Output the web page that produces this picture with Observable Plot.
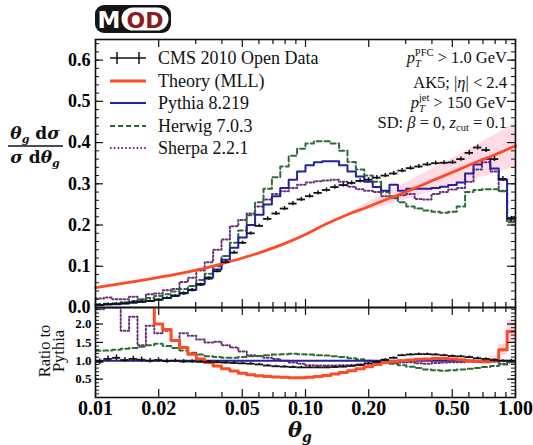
<!DOCTYPE html>
<html><head><meta charset="utf-8">
<script src="https://cdn.jsdelivr.net/npm/d3@7"></script>
<script src="https://cdn.jsdelivr.net/npm/@observablehq/plot@0.6"></script>
<style>
body{margin:0;background:#fff;}
#wrap{position:relative;width:533px;height:445px;overflow:hidden;background:#fff;}
#wrap svg{position:absolute;left:0;}
</style></head><body><div id="wrap"></div>
<script>
// ---- binning in theta_g (log-spaced edges, 50 bins from 0.01 to 1) ----
const binEdges = [0.01,0.010965,0.012023,0.013183,0.014454,0.015849,0.017378,0.019055,0.020893,0.022909,
  0.025119,0.027542,0.030200,0.033113,0.036308,0.039811,0.043652,0.047863,0.052481,0.057544,
  0.063096,0.069183,0.075858,0.083176,0.091201,0.1,0.10965,0.12023,0.13183,0.14454,
  0.15849,0.17378,0.19055,0.20893,0.22909,0.25119,0.27542,0.30200,0.33113,0.36308,
  0.39811,0.43652,0.47863,0.52481,0.57544,0.63096,0.69183,0.75858,0.83176,0.91201,1.0];

// ---- main panel: (theta_g/sigma) dsigma/dtheta_g ----
const cmsData = [0.006,0.008,0.009,0.010,0.012,0.014,0.016,0.019,0.023,0.028,
  0.034,0.042,0.055,0.070,0.088,0.110,0.133,0.157,0.180,0.198,
  0.215,0.228,0.240,0.252,0.262,0.270,0.278,0.285,0.292,0.297,
  0.302,0.307,0.310,0.315,0.320,0.325,0.332,0.338,0.342,0.347,
  0.350,0.351,0.352,0.360,0.375,0.388,0.382,0.360,0.312,0.215];
const cmsErr = [0.003,0.003,0.003,0.003,0.003,0.003,0.003,0.003,0.003,0.003,
  0.004,0.004,0.004,0.004,0.004,0.004,0.004,0.004,0.004,0.004,
  0.005,0.005,0.005,0.005,0.005,0.005,0.005,0.005,0.005,0.005,
  0.005,0.005,0.005,0.005,0.005,0.005,0.005,0.005,0.005,0.005,
  0.005,0.005,0.005,0.005,0.006,0.006,0.006,0.006,0.006,0.006];
const pythia = [0.006,0.007,0.008,0.010,0.012,0.014,0.016,0.019,0.023,0.029,
  0.035,0.043,0.057,0.073,0.092,0.116,0.145,0.170,0.200,0.225,
  0.250,0.270,0.290,0.310,0.330,0.345,0.352,0.355,0.355,0.345,
  0.330,0.318,0.305,0.292,0.283,0.298,0.283,0.288,0.288,0.288,
  0.290,0.293,0.297,0.303,0.325,0.347,0.360,0.337,0.310,0.217];
const herwig = [0.008,0.009,0.010,0.013,0.016,0.019,0.023,0.028,0.032,0.039,
  0.045,0.052,0.067,0.082,0.100,0.125,0.157,0.187,0.224,0.255,
  0.288,0.316,0.342,0.368,0.385,0.398,0.403,0.403,0.398,0.380,
  0.353,0.335,0.320,0.305,0.280,0.270,0.255,0.245,0.240,0.235,
  0.232,0.230,0.232,0.245,0.280,0.285,0.287,0.287,0.282,0.207];
const sherpa = [0.022,0.024,0.020,0.020,0.026,0.020,0.032,0.034,0.042,0.045,
  0.062,0.072,0.090,0.110,0.140,0.165,0.197,0.212,0.228,0.245,
  0.262,0.275,0.282,0.290,0.298,0.303,0.306,0.308,0.310,0.305,
  0.293,0.287,0.283,0.280,0.270,0.265,0.272,0.275,0.263,0.262,
  0.275,0.280,0.286,0.290,0.305,0.335,0.352,0.330,0.283,0.210];
const theoryTheta = [0.01,0.0126,0.0158,0.02,0.0251,0.0316,0.0398,0.0501,0.0631,0.0794,0.1,0.126,0.158,0.2,0.251,0.316,0.398,0.501,0.631,0.794,1.0];
const theoryValue = [0.048,0.056,0.064,0.073,0.082,0.093,0.106,0.120,0.136,0.155,0.177,0.203,0.225,0.245,0.265,0.285,0.307,0.328,0.350,0.370,0.392];
const bandTheta = [0.158,0.2,0.251,0.316,0.398,0.501,0.631,0.794,1.0];
const bandLo = [0.222,0.236,0.250,0.265,0.280,0.295,0.310,0.325,0.340];
const bandHi = [0.228,0.256,0.282,0.308,0.335,0.362,0.390,0.418,0.450];

// ---- ratio panel: ratio to Pythia ----
const cmsRatio = [0.97,1.05,1.08,1.02,1.05,1.03,1.00,1.02,0.99,1.00,
  0.98,0.98,0.97,0.97,0.96,0.95,0.94,0.93,0.92,0.90,
  0.87,0.85,0.84,0.83,0.82,0.82,0.82,0.82,0.83,0.84,
  0.86,0.88,0.93,0.97,1.03,1.08,1.15,1.17,1.18,1.18,
  1.17,1.15,1.13,1.12,1.10,1.07,1.05,1.02,1.00,1.00];
const cmsRatioErr = [0.08,0.08,0.08,0.07,0.07,0.07,0.06,0.06,0.06,0.05,
  0.05,0.05,0.04,0.04,0.04,0.04,0.04,0.03,0.03,0.03,
  0.03,0.03,0.03,0.03,0.03,0.03,0.03,0.03,0.03,0.03,
  0.03,0.03,0.03,0.03,0.03,0.03,0.03,0.03,0.03,0.03,
  0.03,0.03,0.03,0.03,0.03,0.03,0.03,0.03,0.03,0.04];
const herwigRatio = [1.27,1.28,1.30,1.33,1.35,1.38,1.42,1.46,1.40,1.35,
  1.28,1.22,1.17,1.12,1.10,1.08,1.08,1.10,1.12,1.13,
  1.15,1.17,1.18,1.19,1.18,1.17,1.15,1.14,1.12,1.10,
  1.07,1.04,1.00,0.97,0.95,0.92,0.88,0.84,0.80,0.76,
  0.74,0.73,0.74,0.76,0.78,0.80,0.83,0.86,0.90,0.95];
const sherpaRatio = [2.40,2.45,2.45,1.82,2.20,1.42,1.95,1.75,1.82,1.55,
  1.75,1.68,1.58,1.50,1.52,1.42,1.36,1.25,1.15,1.12,
  1.08,1.05,1.00,0.95,0.92,0.88,0.87,0.87,0.87,0.88,
  0.88,0.90,0.92,0.94,0.95,0.93,0.95,0.96,0.93,0.92,
  0.94,0.95,0.96,0.96,0.97,0.98,0.98,0.97,0.92,0.97];
const theoryRatio = [9.5,8.0,6.8,5.8,4.8,4.0,3.3,2.0,1.85,1.55,
  1.36,1.18,1.05,0.95,0.86,0.78,0.72,0.66,0.62,0.59,
  0.57,0.56,0.55,0.54,0.54,0.55,0.57,0.60,0.64,0.68,
  0.73,0.78,0.84,0.90,0.95,0.98,1.00,1.02,1.04,1.05,
  1.06,1.06,1.05,1.03,1.00,0.98,0.97,1.02,1.30,1.80];
const ratioBandTheta = [0.63096,0.69183,0.75858,0.83176,0.91201,1.0];
const ratioBandLo = [0.92,0.92,0.95,1.15,1.50,1.50];
const ratioBandHi = [1.05,1.05,1.12,1.45,2.10,2.10];

// ---- ticks ----
const xLabelTicks = [0.01,0.02,0.05,0.1,0.2,0.5,1];
const xMinorTicks = [0.03,0.04,0.06,0.07,0.08,0.09,0.3,0.4,0.6,0.7,0.8,0.9];
const yMainTicks = [0,0.1,0.2,0.3,0.4,0.5,0.6];
const yMainMinor = d3.range(0.02, 0.65, 0.02);
const yRatioTicks = [0.5,1.0,1.5,2.0];
const yRatioMinor = d3.range(0.1, 2.45, 0.1);

// colours
const C_RED = "#ff4a26", C_BLUE = "#23239b", C_GREEN = "#2f6a3a", C_PURPLE = "#6c2f7a", C_BLACK = "#111";
const DOT = "1.6,2.2";

const stepRows = vals => binEdges.map((x, i) => ({x, y: vals[Math.min(i, vals.length - 1)]}));
const binRows = (vals, err) => vals.map((v, i) => ({x1: binEdges[i], x2: binEdges[i + 1],
  xc: Math.sqrt(binEdges[i] * binEdges[i + 1]), v, lo: v - err[i], hi: v + err[i]}));

const FONT = "Liberation Serif, DejaVu Serif, serif";
const FH1 = 268, FH2 = 90, FW = 420;

function tickMarks(FH, yMajor, yMinor) {
  return [
    Plot.ruleX(xLabelTicks, {insetBottom: FH - 8, stroke: C_BLACK, strokeWidth: 1.2}),
    Plot.ruleX(xMinorTicks, {insetBottom: FH - 5, stroke: C_BLACK, strokeWidth: 1.2}),
    Plot.ruleX(xLabelTicks, {insetTop: FH - 8, stroke: C_BLACK, strokeWidth: 1.2}),
    Plot.ruleX(xMinorTicks, {insetTop: FH - 5, stroke: C_BLACK, strokeWidth: 1.2}),
    Plot.ruleY(yMajor, {insetRight: FW - 8, stroke: C_BLACK, strokeWidth: 1.2}),
    Plot.ruleY(yMinor, {insetRight: FW - 4, stroke: C_BLACK, strokeWidth: 1}),
    Plot.ruleY(yMajor, {insetLeft: FW - 8, stroke: C_BLACK, strokeWidth: 1.2}),
    Plot.ruleY(yMinor, {insetLeft: FW - 4, stroke: C_BLACK, strokeWidth: 1})
  ];
}

const theoryRows = theoryTheta.map((x, i) => ({x, y: theoryValue[i]}));
const bandRows = bandTheta.map((x, i) => ({x, lo: bandLo[i], hi: bandHi[i]}));
const ratioBandRows = ratioBandTheta.map((x, i) => ({x, lo: ratioBandLo[i], hi: ratioBandHi[i]}));
const dataRows = binRows(cmsData, cmsErr);
const dataRatioRows = binRows(cmsRatio, cmsRatioErr);

const main = Plot.plot({
  width: 533, height: 320,
  marginLeft: 95, marginRight: 18, marginTop: 39, marginBottom: 13,
  style: {background: "transparent", overflow: "visible", fontFamily: FONT},
  x: {type: "log", domain: [0.01, 1], axis: null},
  y: {domain: [0, 0.65]},
  marks: [
    Plot.areaY(bandRows, {x: "x", y1: "lo", y2: "hi", fill: "#ff5c8c", fillOpacity: 0.22, curve: "monotone-x"}),
    Plot.line(stepRows(sherpa), {x: "x", y: "y", curve: "step-after", stroke: C_PURPLE, strokeWidth: 2, strokeDasharray: DOT}),
    Plot.line(stepRows(herwig), {x: "x", y: "y", curve: "step-after", stroke: C_GREEN, strokeWidth: 2, strokeDasharray: "5,3"}),
    Plot.line(stepRows(pythia), {x: "x", y: "y", curve: "step-after", stroke: C_BLUE, strokeWidth: 2}),
    Plot.line(theoryRows, {x: "x", y: "y", curve: "monotone-x", stroke: C_RED, strokeWidth: 2.8}),
    Plot.ruleY(dataRows, {x1: "x1", x2: "x2", y: "v", stroke: C_BLACK, strokeWidth: 1.8}),
    Plot.ruleX(dataRows, {x: "xc", y1: "lo", y2: "hi", stroke: C_BLACK, strokeWidth: 1.5}),
    ...tickMarks(FH1, yMainTicks, yMainMinor),
    Plot.frame({stroke: C_BLACK, strokeWidth: 1.6}),
    Plot.axisY({ticks: yMainTicks, tickSize: 0, tickPadding: 5, tickFormat: d3.format(".1f"),
      fontSize: 18, fontWeight: "bold", fontFamily: FONT, label: null})
  ]
});
main.style.top = "0px";

const ratio = Plot.plot({
  width: 533, height: 148,
  marginLeft: 95, marginRight: 18, marginTop: 10, marginBottom: 48,
  style: {background: "transparent", overflow: "visible", fontFamily: FONT},
  x: {type: "log", domain: [0.01, 1]},
  y: {domain: [0, 2.45]},
  marks: [
    Plot.areaY(ratioBandRows, {x: "x", y1: "lo", y2: "hi", curve: "step-after", fill: "#ff5c8c", fillOpacity: 0.25}),
    Plot.line(stepRows(sherpaRatio), {x: "x", y: "y", curve: "step-after", stroke: C_PURPLE, strokeWidth: 2, strokeDasharray: DOT, clip: true}),
    Plot.line(stepRows(herwigRatio), {x: "x", y: "y", curve: "step-after", stroke: C_GREEN, strokeWidth: 2, strokeDasharray: "5,3", clip: true}),
    Plot.ruleY([1], {stroke: C_BLUE, strokeWidth: 2}),
    Plot.line(stepRows(theoryRatio), {x: "x", y: "y", curve: "step-after", stroke: C_RED, strokeWidth: 3, clip: true}),
    Plot.ruleY(dataRatioRows, {x1: "x1", x2: "x2", y: "v", stroke: C_BLACK, strokeWidth: 1.8}),
    Plot.ruleX(dataRatioRows, {x: "xc", y1: "lo", y2: "hi", stroke: C_BLACK, strokeWidth: 1.5}),
    ...tickMarks(FH2, yRatioTicks, yRatioMinor),
    Plot.frame({stroke: C_BLACK, strokeWidth: 1.6}),
    Plot.axisY({ticks: yRatioTicks, tickSize: 0, tickPadding: 4, tickFormat: d3.format(".1f"),
      fontSize: 13, fontWeight: "bold", fontFamily: FONT, label: null}),
    Plot.axisX({ticks: xLabelTicks, tickSize: 0, tickPadding: 3, tickFormat: d3.format(".2f"),
      fontSize: 20, fontWeight: "bold", fontFamily: FONT, label: null})
  ]
});
ratio.style.top = "297px";

const wrap = document.getElementById("wrap");
wrap.appendChild(main);
wrap.appendChild(ratio);

const legendItems = ["CMS 2010 Open Data", "Theory (MLL)", "Pythia 8.219", "Herwig 7.0.3", "Sherpa 2.2.1"];
const legendY = [58, 81, 103, 126, 148];

const ov = document.createElementNS("http://www.w3.org/2000/svg", "svg");
ov.setAttribute("width", 533); ov.setAttribute("height", 445);
ov.style.top = "0px";
ov.innerHTML = `
<g>
  <rect x="95" y="5" width="76" height="28" rx="9" fill="#151515"/>
  <rect x="121.5" y="7.5" width="47" height="23" rx="11.5" fill="#fff"/>
  <text x="109" y="28" text-anchor="middle" font-family="DejaVu Sans" font-weight="bold" font-size="23" fill="#fff">M</text>
  <text x="145" y="28" text-anchor="middle" font-family="DejaVu Sans" font-weight="bold" font-size="22" fill="#8b1c22">OD</text>
</g>
<g fill="none">
  <line x1="110" x2="146" y1="${legendY[0]}" y2="${legendY[0]}" stroke="${C_BLACK}" stroke-width="1.5"/>
  <line x1="117" x2="117" y1="${legendY[0]-6}" y2="${legendY[0]+6}" stroke="${C_BLACK}" stroke-width="1.5"/>
  <line x1="139" x2="139" y1="${legendY[0]-6}" y2="${legendY[0]+6}" stroke="${C_BLACK}" stroke-width="1.5"/>
  <line x1="110" x2="146" y1="${legendY[1]}" y2="${legendY[1]}" stroke="${C_RED}" stroke-width="3"/>
  <line x1="110" x2="146" y1="${legendY[2]}" y2="${legendY[2]}" stroke="${C_BLUE}" stroke-width="2"/>
  <line x1="110" x2="146" y1="${legendY[3]}" y2="${legendY[3]}" stroke="${C_GREEN}" stroke-width="2" stroke-dasharray="5,3"/>
  <line x1="110" x2="146" y1="${legendY[4]}" y2="${legendY[4]}" stroke="${C_PURPLE}" stroke-width="2" stroke-dasharray="${DOT}"/>
</g>
<g font-family="${FONT}" font-size="18" fill="${C_BLACK}">
  ${legendItems.map((t, i) => `<text x="158" y="${legendY[i] + 6}">${t}</text>`).join("")}
</g>
<g font-family="${FONT}" font-size="16.5" fill="${C_BLACK}" text-anchor="end">
  <text x="507" y="63"><tspan font-style="italic">p</tspan><tspan font-size="10.5" font-style="italic" dy="4">T</tspan><tspan font-size="10.5" dx="-6" dy="-11">PFC</tspan><tspan dy="7"> &gt; 1.0 GeV</tspan></text>
  <text x="507" y="88">AK5; |<tspan font-style="italic">η</tspan>| &lt; 2.4</text>
  <text x="507" y="108"><tspan font-style="italic">p</tspan><tspan font-size="10.5" font-style="italic" dy="4">T</tspan><tspan font-size="10.5" dx="-6" dy="-11">jet</tspan><tspan dy="7"> &gt; 150 GeV</tspan></text>
  <text x="507" y="128">SD: <tspan font-style="italic">β</tspan> = 0, <tspan font-style="italic">z</tspan><tspan font-size="10.5" dy="3">cut</tspan><tspan dy="-3"> = 0.1</tspan></text>
</g>
<g font-family="DejaVu Serif, serif" font-weight="bold" font-size="17" fill="${C_BLACK}" text-anchor="middle">
  <text x="35" y="139"><tspan font-style="italic">θ</tspan><tspan font-size="11" font-style="italic" dy="4">g</tspan><tspan dy="-4"> d</tspan><tspan font-style="italic">σ</tspan></text>
  <line x1="8" x2="63" y1="146" y2="146" stroke="${C_BLACK}" stroke-width="1.6"/>
  <text x="35" y="163"><tspan font-style="italic">σ</tspan> d<tspan font-style="italic">θ</tspan><tspan font-size="11" font-style="italic" dy="4">g</tspan></text>
</g>
<g font-family="${FONT}" font-size="16.5" fill="${C_BLACK}" text-anchor="middle">
  <text transform="translate(50,351) rotate(-90)">Ratio to</text>
  <text transform="translate(64,351) rotate(-90)">Pythia</text>
</g>
<text x="300" y="437" font-family="DejaVu Serif, serif" font-weight="bold" font-style="italic" font-size="21" text-anchor="middle" fill="${C_BLACK}">θ<tspan font-size="14" dy="5">g</tspan></text>
`;
wrap.appendChild(ov);
</script></body></html>
